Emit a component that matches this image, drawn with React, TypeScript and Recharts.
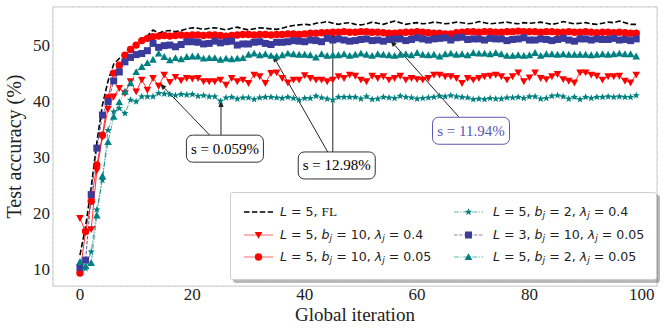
import React from 'react';
import { LineChart, Line, XAxis, YAxis, CartesianGrid, ReferenceLine, ReferenceDot, ReferenceArea, Label } from 'recharts';

const iterations: number[] = Array.from({ length: 100 }, (_, i) => i);

const flL5: number[] = [12.4,17.5,24.5,32.5,39.2,43.5,46.5,47.5,48.4,49.6,50.2,51.0,51.5,52.6,52.0,52.4,52.5,52.3,52.5,52.8,53.0,52.9,52.7,52.9,53.0,52.8,52.6,52.9,53.1,52.8,52.6,52.8,53.0,52.9,52.8,52.7,52.9,53.2,53.4,53.5,53.6,53.5,53.8,53.9,54.1,53.8,53.6,53.8,53.9,53.6,53.5,53.7,54.0,53.8,53.6,53.9,54.2,53.9,53.6,53.8,53.9,53.7,53.8,54.0,53.9,53.7,53.8,54.0,53.9,53.7,53.8,54.1,53.9,53.7,53.8,53.9,54.0,53.8,53.7,53.9,53.8,53.9,54.0,53.8,53.6,53.8,54.1,53.9,53.7,53.8,53.9,53.7,53.6,53.8,54.0,53.9,54.2,53.9,53.6,53.6];

const l5b10lam04: number[] = [19.0,16.5,17.0,27.5,33.5,38.5,40.7,42.2,41.3,43.4,41.6,43.7,41.9,44.0,42.6,44.6,43.3,44.2,43.6,44.0,43.9,44.0,43.4,43.4,43.4,43.7,42.8,44.0,43.4,43.7,43.1,44.6,44.3,43.1,44.9,45.0,44.0,43.2,43.7,43.7,44.5,44.0,43.7,43.7,43.4,43.7,44.3,44.0,44.6,44.4,43.7,43.4,44.4,44.0,44.3,43.7,44.0,44.4,43.7,44.0,43.8,43.7,44.0,44.6,44.6,44.3,44.3,44.0,43.1,44.0,43.7,44.0,44.3,44.4,44.6,44.3,43.7,44.3,45.0,43.4,44.1,45.0,44.0,43.8,44.3,44.7,43.8,43.5,43.2,45.0,45.0,44.6,44.4,43.7,44.3,44.3,44.4,43.5,43.2,44.6];

const l5b10lam005: number[] = [9.2,16.6,22.0,28.5,33.8,40.5,44.9,46.3,48.1,49.1,49.9,50.7,51.1,51.4,51.5,51.6,51.5,51.6,51.7,51.6,51.7,51.7,51.6,51.7,51.7,51.6,51.5,51.6,51.7,51.8,51.8,51.7,51.8,51.8,51.7,51.8,51.8,51.9,51.9,51.8,51.9,52.0,52.0,52.1,52.1,52.2,52.2,52.3,52.2,52.2,52.3,52.3,52.2,52.2,52.1,52.0,52.0,52.1,52.2,52.2,52.3,52.2,52.1,52.0,52.0,51.9,51.9,52.1,52.2,52.3,52.3,52.2,52.3,52.3,52.2,52.2,52.3,52.3,52.4,52.3,52.3,52.3,52.2,52.3,52.3,52.2,52.2,52.3,52.2,52.2,52.3,52.2,52.1,52.2,52.2,52.1,52.2,52.1,52.0,52.0];

const l5b2lam04: number[] = [10.5,10.0,13.0,20.5,25.8,34.7,38.0,38.6,37.7,40.1,39.8,40.7,40.7,40.7,41.3,41.2,41.1,40.9,41.1,41.0,41.1,40.8,40.9,40.7,40.7,39.9,40.5,40.6,40.3,40.5,40.5,40.2,40.5,40.6,40.6,40.5,40.4,40.6,40.4,40.1,40.4,40.4,40.8,40.5,40.3,40.1,40.6,40.6,40.6,40.6,40.3,40.7,40.2,40.3,40.6,40.5,40.4,40.8,40.6,40.5,40.3,40.4,40.5,40.6,40.8,40.7,40.9,40.7,40.6,40.5,40.2,40.3,40.2,40.4,40.3,40.3,40.5,40.5,40.6,40.4,40.7,40.7,40.3,40.4,40.8,40.9,40.7,40.3,40.6,40.2,40.6,40.4,40.6,40.6,40.7,40.6,40.7,40.6,40.6,40.9];

const l3b10lam005: number[] = [10.2,11.5,23.2,31.5,37.4,39.8,43.5,45.1,46.9,47.7,48.2,48.4,48.9,50.2,49.5,49.8,49.9,49.6,50.0,50.5,50.5,50.4,50.1,50.2,50.6,50.3,50.5,50.6,49.9,50.1,50.1,50.4,50.5,50.2,50.0,50.4,50.4,50.5,50.7,50.6,50.5,50.8,50.7,50.5,51.1,50.8,51.0,50.8,50.6,50.7,50.9,51.0,50.7,50.8,50.6,50.9,51.0,51.0,50.7,50.9,51.2,51.0,50.8,51.0,51.1,51.2,50.8,51.2,51.3,50.9,51.0,51.0,50.8,51.1,51.0,51.0,50.7,50.9,51.0,51.2,50.8,50.8,51.0,50.9,50.7,50.9,51.1,50.8,50.6,51.0,51.0,50.8,51.0,50.9,50.9,51.1,50.8,50.9,50.7,51.0];

const l5b2lam005: number[] = [11.2,10.4,11.0,19.5,26.5,32.6,37.1,39.7,41.6,43.1,45.1,46.0,46.7,47.3,48.4,47.8,47.2,47.6,47.4,47.8,47.9,47.9,47.5,47.6,47.6,47.3,47.5,47.4,47.5,47.6,48.2,48.4,48.1,48.3,48.0,47.9,48.1,48.4,48.3,48.2,48.2,48.1,47.7,48.3,48.0,48.1,48.1,48.3,48.0,48.2,48.4,48.2,48.0,48.3,48.2,48.1,48.0,48.2,48.3,48.1,48.5,48.2,48.1,48.2,47.9,48.3,48.4,48.2,48.3,48.1,48.5,48.4,48.4,48.3,48.5,48.3,48.0,48.0,48.1,48.0,48.1,48.5,48.0,48.3,48.3,48.2,48.3,48.2,48.2,48.2,48.2,48.1,48.2,48.3,48.2,48.3,48.4,48.3,48.3,47.9];

const xTicks: number[] = [0, 20, 40, 60, 80, 100];
const yTicks: number[] = [10, 20, 30, 40, 50];
const xDomain: [number, number] = [-4.8, 102.7];
const yDomain: [number, number] = [6.875, 56.7];

const data = iterations.map((it, i) => ({
  it,
  fl: flL5[i],
  a: l5b10lam04[i],
  b: l5b10lam005[i],
  c: l5b2lam04[i],
  d: l3b10lam005[i],
  e: l5b2lam005[i],
}));

const RED = '#ff0000';
const TEAL = '#008080';
const BLUE = '#3b3b9b';
const SERIF = '"Liberation Serif", "Times New Roman", serif';
const SANS = '"DejaVu Sans", sans-serif';

type MarkerKind = 'none' | 'tdown' | 'circle' | 'star' | 'square' | 'tup';

function Marker({ kind, cx, cy, color }: { kind: MarkerKind; cx: number; cy: number; color: string }) {
  if (cx == null || cy == null || isNaN(cx) || isNaN(cy)) return null;
  if (kind === 'tdown') {
    return <polygon points={`${cx - 3.8},${cy - 3.1} ${cx + 3.8},${cy - 3.1} ${cx},${cy + 3.8}`} fill={color} />;
  }
  if (kind === 'tup') {
    return <polygon points={`${cx},${cy - 3.8} ${cx - 3.8},${cy + 3.1} ${cx + 3.8},${cy + 3.1}`} fill={color} />;
  }
  if (kind === 'circle') {
    return <circle cx={cx} cy={cy} r={3.7} fill={color} />;
  }
  if (kind === 'square') {
    return <rect x={cx - 3.5} y={cy - 3.5} width={7} height={7} fill={color} />;
  }
  if (kind === 'star') {
    const pts: string[] = [];
    for (let k = 0; k < 10; k++) {
      const r = k % 2 === 0 ? 3.9 : 1.6;
      const a = -Math.PI / 2 + (k * Math.PI) / 5;
      pts.push(`${cx + r * Math.cos(a)},${cy + r * Math.sin(a)}`);
    }
    return <polygon points={pts.join(' ')} fill={color} />;
  }
  return null;
}

type SeriesDef = {
  key: string;
  color: string;
  width: number;
  dash?: string;
  opacity: number;
  marker: MarkerKind;
  label: React.ReactNode;
};

const M = (s: string) => <span style={{ fontStyle: 'italic' }}>{s}</span>;
const Sub = (s: string) => (
  <sub style={{ fontStyle: 'italic', fontSize: '0.72em', verticalAlign: '-0.25em', lineHeight: 0 }}>{s}</sub>
);

const series: SeriesDef[] = [
  { key: 'fl', color: '#000000', width: 1.6, dash: '5.5 2.4', opacity: 1, marker: 'none',
    label: <>{M('L')} = 5, <span style={{ fontFamily: SERIF, fontSize: '1.05em' }}>FL</span></> },
  { key: 'a', color: RED, width: 1, opacity: 0.8, marker: 'tdown',
    label: <>{M('L')} = 5, {M('b')}{Sub('j')} = 10, {M('λ')}{Sub('j')} = 0.4</> },
  { key: 'b', color: RED, width: 1, opacity: 0.8, marker: 'circle',
    label: <>{M('L')} = 5, {M('b')}{Sub('j')} = 10, {M('λ')}{Sub('j')} = 0.05</> },
  { key: 'c', color: TEAL, width: 1, dash: '5 1.5 1.2 1.5', opacity: 0.7, marker: 'star',
    label: <>{M('L')} = 5, {M('b')}{Sub('j')} = 2, {M('λ')}{Sub('j')} = 0.4</> },
  { key: 'd', color: BLUE, width: 1, dash: '3.5 1.5', opacity: 0.85, marker: 'square',
    label: <>{M('L')} = 3, {M('b')}{Sub('j')} = 10, {M('λ')}{Sub('j')} = 0.05</> },
  { key: 'e', color: TEAL, width: 1, dash: '5 1.5 1.2 1.5', opacity: 0.7, marker: 'tup',
    label: <>{M('L')} = 5, {M('b')}{Sub('j')} = 2, {M('λ')}{Sub('j')} = 0.05</> },
];

type Annot = { text: string; x: number; y: number; color: string; arrows: { from: [number, number]; to: [number, number] }[] };
const annotations: Annot[] = [
  { text: 's = 0.059%', x: 25.8, y: 31.4, color: '#000000',
    arrows: [{ from: [23.1, 33.8], to: [14.2, 43.1] }, { from: [25.1, 33.8], to: [25.1, 40.1] }] },
  { text: 's = 12.98%', x: 45.7, y: 28.4, color: '#000000',
    arrows: [{ from: [44.1, 30.8], to: [34.3, 48.1] }, { from: [45.0, 30.8], to: [45.0, 52.4] }] },
  { text: 's = 11.94%', x: 69.6, y: 34.6, color: '#5858b0',
    arrows: [{ from: [67.4, 37.1], to: [55.2, 50.8] }] },
];

function ArrowShape(props: any) {
  const { x1, y1, x2, y2 } = props;
  const dx = x2 - x1;
  const dy = y2 - y1;
  const len = Math.sqrt(dx * dx + dy * dy) || 1;
  const ux = dx / len;
  const uy = dy / len;
  const hl = 7;
  const hw = 2.6;
  const bx = x2 - ux * hl;
  const by = y2 - uy * hl;
  const p1 = `${bx - uy * hw},${by + ux * hw}`;
  const p2 = `${bx + uy * hw},${by - ux * hw}`;
  return (
    <g>
      <line x1={x1} y1={y1} x2={bx} y2={by} stroke="#222" strokeWidth={1} />
      <polygon points={`${x2},${y2} ${p1} ${p2}`} fill="#222" />
    </g>
  );
}

function boxShape(text: string, color: string) {
  return (props: any) => {
    const { cx, cy } = props;
    const w = 77;
    const h = 27;
    return (
      <g>
        <rect x={cx - w / 2} y={cy - h / 2} width={w} height={h} rx={6} ry={6} fill="#ffffff" stroke={color === '#000000' ? '#333' : color} strokeWidth={1} />
        <text x={cx} y={cy} textAnchor="middle" dominantBaseline="central" fontFamily={SERIF} fontSize={15} fill={color}>{text}</text>
      </g>
    );
  };
}

function LegendHandle({ s }: { s: SeriesDef }) {
  return (
    <svg width={32} height={12} style={{ display: 'block' }}>
      <line x1={0} y1={6} x2={29} y2={6} stroke={s.color} strokeWidth={s.width === 1.6 ? 1.6 : 1} strokeDasharray={s.dash} strokeOpacity={s.key === 'fl' ? 1 : 0.6} />
      <Marker kind={s.marker} cx={14.5} cy={6} color={s.color} />
    </svg>
  );
}

export default function App() {
  const colLeft = [13, 223];
  const textLeft = [49, 262];
  const rowTop = [19, 41.5, 64];
  return (
    <div style={{ position: 'absolute', left: 0, top: 0, width: 664, height: 328, background: '#fff' }}>
      <LineChart width={664} height={328} data={data} margin={{ top: 7, right: 7, bottom: 0, left: 0 }}>
        <ReferenceArea x1={xDomain[0]} x2={xDomain[1]} y1={yDomain[0]} y2={yDomain[1]} fill="#ffffff" fillOpacity={1} stroke="#d0d0d0" strokeWidth={1} ifOverflow="visible" />
        <CartesianGrid stroke="#b4b4b4" strokeDasharray="4 2" strokeWidth={0.9} />
        <XAxis dataKey="it" type="number" domain={xDomain} ticks={xTicks} allowDataOverflow height={42}
          axisLine={false} tickLine={false} tickSize={0} tickMargin={2}
          tick={{ fontFamily: SERIF, fontSize: 17, fill: '#222' }}>
          <Label content={(p: any) => {
            const vb = p.viewBox || { x: 53, y: 286, width: 604, height: 42 };
            return <text x={vb.x + vb.width / 2} y={vb.y + 35} textAnchor="middle" fontFamily={SERIF} fontSize={19} fill="#222">Global iteration</text>;
          }} />
        </XAxis>
        <YAxis type="number" domain={yDomain} ticks={yTicks} allowDataOverflow width={53}
          axisLine={false} tickLine={false} tickSize={0} tickMargin={3}
          tick={{ fontFamily: SERIF, fontSize: 17, fill: '#222' }}>
          <Label content={(p: any) => {
            const vb = p.viewBox || { x: 0, y: 7, width: 53, height: 279 };
            const cx = vb.x + 14;
            const cy = vb.y + vb.height / 2;
            return <text x={cx} y={cy} transform={`rotate(-90 ${cx} ${cy})`} textAnchor="middle" dominantBaseline="central" fontFamily={SERIF} fontSize={20} fill="#222">Test accuracy (%)</text>;
          }} />
        </YAxis>
        {series.map((s) => (
          <Line key={s.key} dataKey={s.key} type="linear" stroke={s.color} strokeWidth={s.width}
            strokeDasharray={s.dash} strokeOpacity={s.opacity} isAnimationActive={false}
            dot={s.marker === 'none' ? false : (p: any) => <Marker key={`${s.key}-${p.index}`} kind={s.marker} cx={p.cx} cy={p.cy} color={s.color} />}
            activeDot={false} />
        ))}
        {annotations.flatMap((a, i) => a.arrows.map((ar, j) => (
          <ReferenceLine key={`ar-${i}-${j}`} segment={[{ x: ar.from[0], y: ar.from[1] }, { x: ar.to[0], y: ar.to[1] }]}
            shape={ArrowShape} ifOverflow="visible" />
        )))}
        {annotations.map((a, i) => (
          <ReferenceDot key={`box-${i}`} x={a.x} y={a.y} r={1} shape={boxShape(a.text, a.color)} ifOverflow="visible" />
        ))}
      </LineChart>
      <div style={{ position: 'absolute', left: 230, top: 192, width: 427, height: 88, boxSizing: 'border-box',
        background: '#ffffff', border: '1px solid #cfcfcf', borderRadius: 3, boxShadow: '3px 3px 0 rgba(0,0,0,0.28)' }}>
        {series.map((s, i) => {
          const col = i < 3 ? 0 : 1;
          const row = i % 3;
          return (
            <React.Fragment key={s.key}>
              <div style={{ position: 'absolute', left: colLeft[col], top: rowTop[row] - 6 }}>
                <LegendHandle s={s} />
              </div>
              <div style={{ position: 'absolute', left: textLeft[col], top: rowTop[row] - 9, height: 18, lineHeight: '18px',
                fontFamily: SANS, fontSize: 12.6, color: '#222', whiteSpace: 'nowrap' }}>
                {s.label}
              </div>
            </React.Fragment>
          );
        })}
      </div>
    </div>
  );
}
